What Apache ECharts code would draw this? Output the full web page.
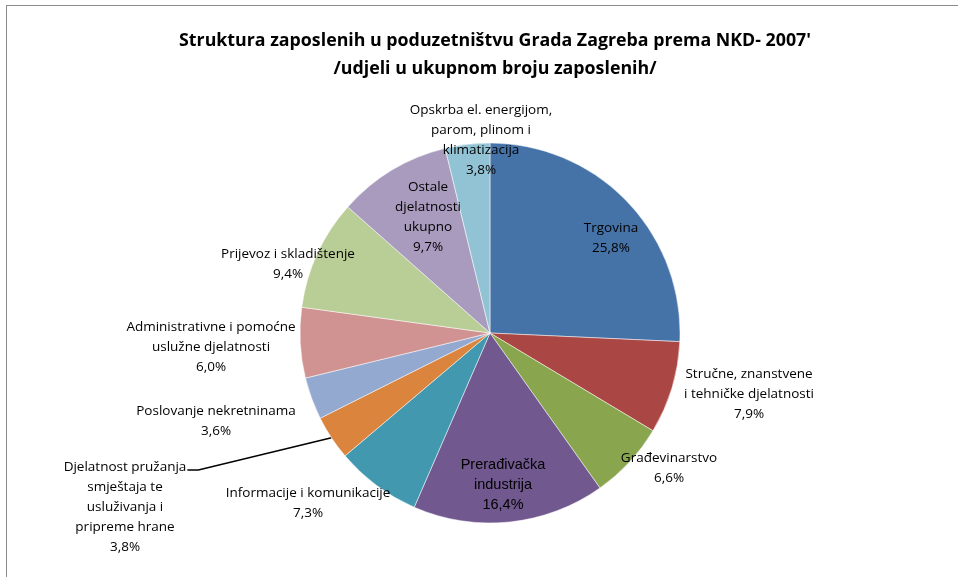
<!DOCTYPE html>
<html>
<head>
<meta charset="utf-8">
<script src="https://cdn.jsdelivr.net/npm/echarts@6/dist/echarts.min.js"></script>
<style>
  html, body { margin: 0; padding: 0; background: #fff; overflow: hidden; }
  .frame {
    position: absolute; left: 6px; top: 5px;
    width: 1200px; height: 900px;
    border-left: 1px solid #8c8c8c; border-top: 1px solid #8c8c8c;
  }
  #chart { position: absolute; left: 0; top: 0; width: 958px; height: 577px; }
</style>
</head>
<body>
<div class="frame"></div>
<div id="chart"></div>
<script>
// kategorije i udjeli (%)
const categories = [
  'Trgovina',
  'Stručne, znanstvene\ni tehničke djelatnosti',
  'Građevinarstvo',
  'Prerađivačka\nindustrija',
  'Informacije i komunikacije',
  'Djelatnost pružanja\nsmještaja te\nusluživanja i\npripreme hrane',
  'Poslovanje nekretninama',
  'Administrativne i pomoćne\nuslužne djelatnosti',
  'Prijevoz i skladištenje',
  'Ostale\ndjelatnosti\nukupno',
  'Opskrba el. energijom,\nparom, plinom i\nklimatizacija'
]
const shares = [25.8, 7.9, 6.6, 16.4, 7.3, 3.8, 3.6, 6.0, 9.4, 9.7, 3.8]

const colors = ['#4572A7', '#AA4643', '#89A54E', '#71588F', '#4198AF', '#DB843D',
  '#93A9CF', '#D19392', '#B9CD96', '#A99BBD', '#92C3D4']

// ručno postavljeni položaji natpisa (kao u Excelu)
const labelPos = [
  [611, 238], [749, 394], [669, 468], [503, 485], [308, 503], [125, 507],
  [216, 421], [211, 347], [288, 264], [428, 217], [481, 140]
]

const chart = echarts.init(document.getElementById('chart'))

chart.setOption({
  animation: false,
  title: {
    text: 'Struktura zaposlenih u poduzetništvu Grada Zagreba prema NKD- 2007\'\n/udjeli u ukupnom broju zaposlenih/',
    left: 490,
    textAlign: 'center',
    top: 22,
    textStyle: {
      fontFamily: 'Open Sans',
      fontSize: 17.8,
      fontWeight: 'bold',
      color: '#000',
      lineHeight: 28
    }
  },
  series: [{
    type: 'pie',
    center: [490, 333],
    radius: [0, 190],
    startAngle: 90,
    clockwise: true,
    color: colors,
    itemStyle: { borderColor: '#fff', borderWidth: 0.5 },
    label: {
      show: true,
      position: 'outside',
      fontFamily: 'Open Sans',
      fontSize: 13.5,
      color: '#000',
      lineHeight: 20,
      align: 'center',
      formatter: p => p.name + '\n' + p.value.toFixed(1).replace('.', ',') + '%'
    },
    labelLine: { show: false },
    labelLayout: p => {
      const [x, y] = labelPos[p.dataIndex]
      const out = { x: x, y: y, align: 'center', verticalAlign: 'middle' }
      if (p.labelLinePoints) {
        // vodilica od ruba isječka do prvog retka natpisa
        const right = x + p.labelRect.width / 2
        const top = y - p.labelRect.height / 2
        const ly = top + 13
        out.labelLinePoints = [p.labelLinePoints[0], [right + 12, ly], [right + 1, ly]]
      }
      return out
    },
    data: categories.map((name, i) => {
      const item = { name: name, value: shares[i] }
      if (i === 5) {
        item.labelLine = { show: true, length: 20, length2: 10, lineStyle: { color: '#000', width: 1.5 } }
      }
      if (i === 3) {
        item.label = { fontFamily: 'Liberation Sans', fontSize: 14.5, lineHeight: 20 }
      }
      return item
    })
  }]
})
</script>
</body>
</html>
